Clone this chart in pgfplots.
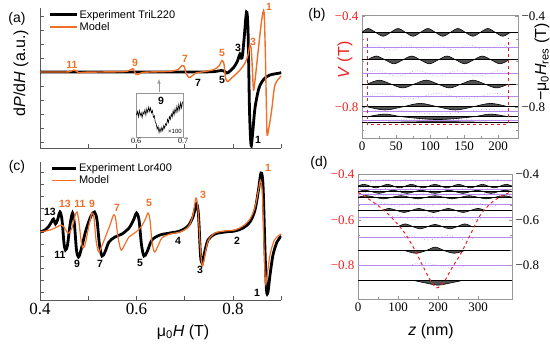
\documentclass[border=0pt]{standalone}
\usepackage{fontspec}
\setmainfont{Liberation Sans}
\newfontfamily\tnr{Liberation Serif}
\usepackage{pgfplots}
\pgfplotsset{compat=1.18}
\definecolor{orng}{RGB}{240,112,40}
\definecolor{vio}{RGB}{185,135,240}
\definecolor{axc}{RGB}{90,90,90}
\definecolor{frm}{RGB}{150,150,150}
\definecolor{fillg}{RGB}{80,80,80}
\definecolor{rd}{RGB}{240,30,30}
\newcommand{\tl}[1]{\hbox{\tnr #1}}
\tikzset{
  lo/.style={text=orng, font=\fontsize{10.5}{12}\selectfont\bfseries, inner sep=0pt},
  lb/.style={text=black, font=\fontsize{10.5}{12}\selectfont\bfseries, inner sep=0pt},
}
\pgfplotsset{
  band/.style={smooth, tension=0.55, fill=fillg, draw=black, line width=0.6pt},
  pdot/.style={smooth, tension=0.6, vio, dotted, line width=0.6pt},
  psol/.style={vio, line width=0.7pt},
  bsol/.style={black, line width=0.9pt},
}
\begin{document}
\begin{tikzpicture}[x=1pt,y=1pt]
\useasboundingbox (0,0) rectangle (550,347);

% ---------------- (a) ----------------
\begin{axis}[
  at={(40pt,199pt)}, anchor=south west, scale only axis,
  width=241.25pt, height=140pt, xmin=0.4, xmax=0.9, ymin=-2.714, ymax=2.286,
  axis x line*=bottom, axis y line*=left, axis line style={axc, line width=0.6pt},
  tick align=inside, major tick length=3.5pt, tick style={axc, line width=0.6pt},
  xtick={0.4,0.5,0.6,0.7,0.8,0.9}, xticklabels={}, ytick={-2.5,-2,...,2}, yticklabels={},
  legend style={draw=none, fill=none, at={(0.035,0.995)}, anchor=north west,
    font=\fontsize{11}{12}\selectfont, inner sep=0pt, row sep=0.5pt, nodes={inner sep=1.2pt}},
  legend cell align=left,
  legend image code/.code={\draw[#1] (0pt,0pt) -- (27pt,0pt);},
]
\addplot[black, line width=2.8pt, smooth, tension=0.5] coordinates {
(0.4,0) (0.5244,0) (0.628,0) (0.7316,0) (0.7627,0.018) (0.7751,0.054) (0.7813,0.036)
(0.7876,-0.036) (0.7938,0.036) (0.8021,0.179) (0.8093,0.393) (0.8145,0.643) (0.8187,0.5)
(0.8228,1.143) (0.828,2.143) (0.8311,1.5) (0.8342,-1.357) (0.8373,-2.607) (0.8404,-2.25)
(0.8456,-1.286) (0.8539,-0.571) (0.8642,-0.25) (0.8767,-0.107) (0.8974,-0.036) (0.9,-0.02)};
\addlegendentry{Experiment TriL220}
\addplot[orng, line width=1.4pt, smooth, tension=0.5] coordinates {
(0.4,0) (0.4518,0) (0.4622,0.018) (0.4705,0.071) (0.4767,0.018) (0.4808,-0.036) (0.4891,-0.01)
(0.5244,0) (0.5762,0.018) (0.5886,0.089) (0.5938,0.107) (0.5979,-0.071) (0.6031,-0.089)
(0.6114,-0.018) (0.628,0) (0.6694,0.025) (0.686,0.089) (0.6943,0.232) (0.6984,0.214)
(0.7026,-0.036) (0.7088,-0.196) (0.715,-0.143) (0.7233,-0.036) (0.742,0.018) (0.7606,0.089)
(0.771,0.214) (0.7772,0.411) (0.7813,0.286) (0.7845,-0.214) (0.7886,-0.339) (0.7938,-0.268)
(0.8041,-0.107) (0.8145,0.071) (0.8249,0.321) (0.8311,0.607) (0.8352,0.964) (0.8383,0.714)
(0.8421,-0.571) (0.8446,-0.45) (0.8524,0.786) (0.8595,1.857) (0.8642,2.154) (0.8669,0.786)
(0.8694,-1.357) (0.8707,-2.25) (0.8748,-1.95) (0.8802,-1.357) (0.887,-0.464) (0.9,-0.143)};
\addlegendentry{Model}
\end{axis}

% inset
\begin{axis}[
  at={(136pt,210pt)}, anchor=south west, scale only axis, width=47pt, height=44pt,
  xmin=0.6, xmax=0.7, ymin=0, ymax=1, axis line style={frm, line width=0.6pt},
  xtick={0.6,0.7}, xticklabels={\tl{0.6},\tl{0.7}}, major tick length=0pt, ytick=\empty,
  xticklabel style={font=\fontsize{8}{9}\selectfont, inner sep=1pt},
]
\addplot[black, line width=0.6pt] coordinates {
(0.601,0.50) (0.603,0.58) (0.605,0.46) (0.607,0.60) (0.609,0.49) (0.611,0.55) (0.613,0.44)
(0.615,0.57) (0.617,0.52) (0.619,0.62) (0.621,0.50) (0.623,0.64) (0.625,0.56) (0.627,0.68)
(0.629,0.58) (0.631,0.66) (0.633,0.55) (0.635,0.60) (0.637,0.45) (0.639,0.48) (0.641,0.34)
(0.643,0.30) (0.645,0.18) (0.647,0.24) (0.649,0.10) (0.651,0.20) (0.653,0.12) (0.655,0.22)
(0.657,0.14) (0.659,0.26) (0.661,0.20) (0.663,0.30) (0.665,0.27) (0.667,0.40) (0.669,0.33)
(0.671,0.46) (0.673,0.40) (0.675,0.52) (0.677,0.45) (0.679,0.60) (0.681,0.50) (0.683,0.64)
(0.685,0.55) (0.687,0.70) (0.689,0.58) (0.691,0.74) (0.693,0.62) (0.695,0.78) (0.697,0.66)
(0.699,0.80)};
\end{axis}

% ---------------- (c) ----------------
\begin{axis}[
  at={(40pt,47pt)}, anchor=south west, scale only axis,
  width=241.25pt, height=138pt, xmin=0.4, xmax=0.9, ymin=-2.833, ymax=2.917,
  axis x line*=bottom, axis y line*=left, axis line style={axc, line width=0.6pt},
  tick align=inside, major tick length=3.5pt, minor tick length=3.5pt, tick style={axc, line width=0.6pt},
  xtick={0.4,0.6,0.8}, xticklabels={\tl{0.4},\tl{0.6},\tl{0.8}}, minor xtick={0.5,0.7,0.9},
  xticklabel style={font=\fontsize{17}{18}\selectfont},
  ytick={-2.5,-2,...,2.5}, yticklabels={},
  legend style={draw=none, fill=none, at={(0.045,1.0)}, anchor=north west,
    font=\fontsize{11}{12}\selectfont, inner sep=0pt, row sep=0.5pt, nodes={inner sep=1.2pt}},
  legend cell align=left,
  legend image code/.code={\draw[#1] (0pt,0pt) -- (24pt,0pt);},
]
\addplot[black, line width=2.8pt, smooth, tension=0.5] coordinates {
(0.4,0) (0.4104,0.083) (0.4187,0.25) (0.4249,0.458) (0.428,0.542) (0.4321,0.333) (0.4363,0.5)
(0.4415,0.833) (0.4456,0.5) (0.4497,-0.458) (0.4528,-0.75) (0.457,-0.542) (0.4622,0.292)
(0.4674,0.792) (0.4715,0.292) (0.4756,-0.75) (0.4798,-1.042) (0.485,-0.75) (0.4953,0.083)
(0.5057,0.667) (0.513,0.833) (0.5181,0.5) (0.5233,-0.542) (0.5285,-1.0) (0.5347,-0.833)
(0.543,-0.417) (0.5554,-0.208) (0.5699,-0.083) (0.5845,0.167) (0.5938,0.5) (0.6,0.792)
(0.6052,0.5) (0.6104,-0.542) (0.6155,-1.0) (0.6218,-0.833) (0.6321,-0.333) (0.6487,-0.125)
(0.6694,-0.042) (0.6902,0.042) (0.7067,0.25) (0.7171,0.625) (0.7244,1.167) (0.7285,0.708)
(0.7326,-0.958) (0.7358,-1.292) (0.7399,-0.958) (0.7482,-0.333) (0.7627,-0.083) (0.7834,0)
(0.8041,0.042) (0.8207,0.167) (0.8352,0.417) (0.8456,0.917) (0.8528,1.75) (0.858,2.458)
(0.8622,1.958) (0.8663,-0.75) (0.8694,-2.417) (0.8725,-2.5) (0.8767,-1.792) (0.8829,-0.958)
(0.8912,-0.417) (0.9,-0.167)};
\addlegendentry{Experiment Lor400}
\addplot[orng, line width=1.2pt, smooth, tension=0.5] coordinates {
(0.4,0) (0.4207,0.083) (0.4352,0.208) (0.4435,0.292) (0.4497,0.208) (0.456,0) (0.4601,-0.042)
(0.4663,0.167) (0.4725,0.667) (0.4767,0.833) (0.4808,0.417) (0.485,-0.333) (0.4891,-0.667)
(0.4943,-0.458) (0.5016,0.292) (0.5078,0.792) (0.5119,0.583) (0.5161,-0.333) (0.5212,-0.833)
(0.5264,-0.667) (0.5347,-0.25) (0.5451,0.292) (0.5523,0.708) (0.5565,0.583) (0.5617,-0.208)
(0.5679,-0.75) (0.5741,-0.583) (0.5845,-0.208) (0.599,0) (0.6093,0.208) (0.6176,0.5)
(0.6238,0.792) (0.628,0.5) (0.6321,-0.417) (0.6373,-0.833) (0.6435,-0.625) (0.6528,-0.25)
(0.6694,-0.083) (0.6902,0) (0.7067,0.208) (0.7161,0.625) (0.7233,1.417) (0.7275,0.917)
(0.7326,-0.75) (0.7368,-1.417) (0.7409,-1.083) (0.7482,-0.375) (0.7627,-0.042) (0.7834,0.042)
(0.8041,0.083) (0.8207,0.25) (0.8352,0.542) (0.8456,1.042) (0.8528,1.75) (0.857,2.167)
(0.8611,1.542) (0.8642,-0.542) (0.8674,-2.125) (0.8705,-1.833) (0.8767,-0.958) (0.885,-0.375)
(0.8933,-0.167) (0.9,-0.083)};
\addlegendentry{Model}
\end{axis}

% ---------------- (b) ----------------
\begin{axis}[
  at={(362pt,209pt)}, anchor=south west, scale only axis, width=156pt, height=123pt,
  xmin=0, xmax=229.4, ymin=-0.936, ymax=-0.3956,
  axis line style={frm, line width=0.6pt}, tick style={frm, line width=0.5pt},
  tick align=inside, major tick length=3pt, minor tick length=2pt,
  xtick={0,50,100,150,200}, xticklabels={\tl{0},\tl{50},\tl{100},\tl{150},\tl{200}}, minor x tick num=1,
  xtick pos=bottom, ytick pos=left,
  ytick={-0.4,-0.8}, yticklabels={\tl{−0.4},\tl{−0.8}}, minor ytick={-0.5,-0.6,-0.7,-0.9},
  xticklabel style={font=\fontsize{13}{14}\selectfont},
  yticklabel style={font=\fontsize{13}{14}\selectfont, text=rd},
]
\addplot[psol] coordinates {(0,-0.538) (229.4,-0.538)};
\addplot[psol] coordinates {(0,-0.652) (229.4,-0.652)};
\addplot[psol] coordinates {(0,-0.752) (229.4,-0.752)};
\addplot[psol] coordinates {(0,-0.821) (229.4,-0.821)};
\addplot[psol] coordinates {(0,-0.860) (229.4,-0.860)};
\addplot[pdot] coordinates {(8,-0.538) (19.5,-0.526) (42.5,-0.550) (65.5,-0.526) (88.5,-0.550) (111.5,-0.526) (134.5,-0.550) (157.5,-0.526) (180.5,-0.550) (203.5,-0.526) (215,-0.538)};
\addplot[pdot] coordinates {(8,-0.652) (22.8,-0.640) (52.4,-0.664) (81.9,-0.640) (111.5,-0.664) (141.1,-0.640) (170.7,-0.664) (200.2,-0.640) (215,-0.652)};
\addplot[pdot] coordinates {(8,-0.752) (28.7,-0.740) (70.1,-0.764) (111.5,-0.740) (152.9,-0.764) (194.3,-0.740) (215,-0.752)};
\addplot[pdot] coordinates {(8,-0.821) (42.5,-0.811) (111.5,-0.831) (180.5,-0.811) (215,-0.821)};
\addplot[pdot] coordinates {(8,-0.860) (111.5,-0.854) (215,-0.860)};
\addplot[band] coordinates {(0,-0.472) (9,-0.455) (20,-0.472) (31,-0.489) (42,-0.472) (53,-0.455) (64,-0.472) (75,-0.489) (86,-0.472) (97,-0.455) (108,-0.472) (119,-0.489) (130,-0.472) (141,-0.455) (152,-0.472) (163,-0.489) (174,-0.472) (185,-0.455) (196,-0.472) (207,-0.489) (218,-0.472)};
\addplot[band] coordinates {(8,-0.593) (21,-0.576) (34,-0.593) (47,-0.610) (60,-0.593) (73,-0.576) (86,-0.593) (99,-0.610) (112,-0.593) (125,-0.576) (138,-0.593) (151,-0.610) (164,-0.593) (177,-0.576) (190,-0.593) (203,-0.610) (216,-0.593)};
\addplot[band] coordinates {(8,-0.699) (25.3,-0.682) (42.5,-0.699) (59.8,-0.716) (77,-0.699) (94.3,-0.682) (111.5,-0.699) (128.8,-0.716) (146,-0.699) (163.3,-0.682) (180.5,-0.699) (197.8,-0.716) (215,-0.699)};
\addplot[band] coordinates {(8,-0.799) (33.9,-0.813) (59.8,-0.799) (85.6,-0.784) (111.5,-0.799) (137.4,-0.813) (163.3,-0.799) (189.1,-0.784) (215,-0.799)};
\addplot[band] coordinates {(8,-0.843) (34,-0.831) (60,-0.843) (111.5,-0.855) (163,-0.843) (189,-0.831) (215,-0.843)};
\addplot[band] coordinates {(8,-0.869) (111.5,-0.864) (215,-0.869)};
\addplot[bsol] coordinates {(0,-0.472) (229.4,-0.472)};
\addplot[bsol] coordinates {(0,-0.593) (229.4,-0.593)};
\addplot[bsol] coordinates {(0,-0.699) (229.4,-0.699)};
\addplot[bsol] coordinates {(0,-0.799) (229.4,-0.799)};
\addplot[bsol] coordinates {(0,-0.843) (229.4,-0.843)};
\addplot[bsol] coordinates {(0,-0.869) (229.4,-0.869)};
\addplot[rd, dashed, line width=1pt] coordinates {(8,-0.497) (8,-0.875) (215,-0.875) (215,-0.497)};
\end{axis}
\begin{axis}[
  at={(362pt,209pt)}, anchor=south west, scale only axis, width=156pt, height=123pt,
  xmin=0, xmax=229.4, ymin=-0.936, ymax=-0.3956,
  hide x axis, axis y line*=right, axis line style={frm, line width=0.6pt},
  tick style={frm, line width=0.5pt}, tick align=inside, major tick length=3pt, minor tick length=2pt,
  ytick={-0.4,-0.8}, yticklabels={\tl{−0.4},\tl{−0.8}}, minor ytick={-0.5,-0.6,-0.7,-0.9},
  yticklabel style={font=\fontsize{13}{14}\selectfont},
]
\addplot[draw=none] coordinates {(0,-0.5)};
\end{axis}

% ---------------- (d) ----------------
\begin{axis}[
  at={(358pt,48pt)}, anchor=south west, scale only axis, width=154pt, height=124.5pt,
  xmin=0, xmax=385, ymin=-0.947, ymax=-0.4,
  axis line style={frm, line width=0.6pt}, tick style={frm, line width=0.5pt},
  tick align=inside, major tick length=3pt, minor tick length=2pt,
  xtick={0,100,200,300}, xticklabels={\tl{0},\tl{100},\tl{200},\tl{300}}, minor x tick num=1,
  xtick pos=bottom, ytick pos=left,
  ytick={-0.4,-0.6,-0.8}, yticklabels={\tl{−0.4},\tl{−0.6},\tl{−0.8}}, minor y tick num=2,
  xticklabel style={font=\fontsize{13}{14}\selectfont},
  yticklabel style={font=\fontsize{13}{14}\selectfont, text=rd},
]
\addplot[psol] coordinates {(0,-0.800) (385,-0.800)};
\addplot[psol] coordinates {(0,-0.678) (385,-0.678)};
\addplot[psol] coordinates {(0,-0.590) (385,-0.590)};
\addplot[psol] coordinates {(0,-0.532) (385,-0.532)};
\addplot[psol] coordinates {(0,-0.488) (385,-0.488)};
\addplot[psol] coordinates {(0,-0.465) (385,-0.465)};
\addplot[psol] coordinates {(0,-0.427) (385,-0.427)};
\addplot[pdot] coordinates {(130,-0.8) (165,-0.788) (235,-0.812) (270,-0.8)};
\addplot[pdot] coordinates {(110,-0.678) (132.5,-0.668) (177.5,-0.688) (222.5,-0.668) (267.5,-0.688) (290,-0.678)};
\addplot[pdot] coordinates {(80,-0.59) (99.2,-0.581) (137.5,-0.599) (175.8,-0.581) (214.2,-0.599) (252.5,-0.581) (290.8,-0.599) (310,-0.59)};
\addplot[pdot] coordinates {(40,-0.532) (59.4,-0.524) (98.1,-0.540) (136.9,-0.524) (175.6,-0.540) (214.4,-0.524) (253.1,-0.540) (291.9,-0.524) (330.6,-0.540) (350,-0.532)};
\addplot[pdot] coordinates {(0,-0.488) (19.25,-0.480) (57.75,-0.496) (96.25,-0.480) (134.75,-0.496) (173.25,-0.480) (211.75,-0.496) (250.25,-0.480) (288.75,-0.496) (327.25,-0.480) (365.75,-0.496) (385,-0.488)};
\addplot[pdot] coordinates {(0,-0.465) (16,-0.457) (48.1,-0.473) (80.2,-0.457) (112.3,-0.473) (144.4,-0.457) (176.5,-0.473) (208.5,-0.457) (240.6,-0.473) (272.7,-0.457) (304.8,-0.473) (336.9,-0.457) (369,-0.473) (385,-0.465)};
\addplot[pdot] coordinates {(0,-0.427) (13.75,-0.420) (41.25,-0.434) (68.75,-0.420) (96.25,-0.434) (123.75,-0.420) (151.25,-0.434) (178.75,-0.420) (206.25,-0.434) (233.75,-0.420) (261.25,-0.434) (288.75,-0.420) (316.25,-0.434) (343.75,-0.420) (371.25,-0.434) (385,-0.427)};
\addplot[band] coordinates {(140,-0.866) (170,-0.877) (200,-0.886) (230,-0.877) (260,-0.866)};
\addplot[band] coordinates {(117,-0.734) (144,-0.746) (171,-0.734) (193,-0.719) (215,-0.734) (241,-0.746) (267,-0.734)};
\addplot[band] coordinates {(100,-0.629) (118.5,-0.617) (137,-0.629) (155.5,-0.639) (174,-0.629) (192.5,-0.619) (211,-0.629) (229.5,-0.639) (248,-0.629) (266.5,-0.617) (285,-0.629)};
\addplot[band] coordinates {(60,-0.558) (78.4,-0.549) (96.9,-0.558) (115.3,-0.567) (133.7,-0.558) (152.1,-0.549) (170.6,-0.558) (189,-0.567) (207.4,-0.558) (225.9,-0.549) (244.3,-0.558) (262.7,-0.567) (281.1,-0.558) (299.6,-0.549) (318,-0.558)};
\addplot[band] coordinates {(0,-0.5) (21.4,-0.493) (42.8,-0.5) (64.2,-0.507) (85.6,-0.5) (107,-0.493) (128.3,-0.5) (149.7,-0.507) (171.1,-0.5) (192.5,-0.493) (213.9,-0.5) (235.3,-0.507) (256.7,-0.5) (278,-0.493) (299.4,-0.5) (320.8,-0.507) (342.2,-0.5) (363.6,-0.493) (385,-0.5)};
\addplot[band] coordinates {(0,-0.476) (17.5,-0.469) (35,-0.476) (52.5,-0.483) (70,-0.476) (87.5,-0.469) (105,-0.476) (122.5,-0.483) (140,-0.476) (157.5,-0.469) (175,-0.476) (192.5,-0.483) (210,-0.476) (227.5,-0.469) (245,-0.476) (262.5,-0.483) (280,-0.476) (297.5,-0.469) (315,-0.476) (332.5,-0.483) (350,-0.476) (367.5,-0.469) (385,-0.476)};
\addplot[band] coordinates {(0,-0.451) (14.8,-0.443) (29.6,-0.451) (44.4,-0.459) (59.2,-0.451) (74,-0.443) (88.8,-0.451) (103.7,-0.459) (118.5,-0.451) (133.3,-0.443) (148.1,-0.451) (162.9,-0.459) (177.7,-0.451) (192.5,-0.443) (207.3,-0.451) (222.1,-0.459) (236.9,-0.451) (251.7,-0.443) (266.5,-0.451) (281.3,-0.459) (296.2,-0.451) (311,-0.443) (325.8,-0.451) (340.6,-0.459) (355.4,-0.451) (370.2,-0.443) (385,-0.451)};
\addplot[bsol] coordinates {(0,-0.866) (385,-0.866)};
\addplot[bsol] coordinates {(0,-0.734) (385,-0.734)};
\addplot[bsol] coordinates {(0,-0.629) (385,-0.629)};
\addplot[bsol] coordinates {(0,-0.558) (385,-0.558)};
\addplot[bsol] coordinates {(0,-0.500) (385,-0.500)};
\addplot[bsol] coordinates {(0,-0.476) (385,-0.476)};
\addplot[bsol] coordinates {(0,-0.451) (385,-0.451)};
\addplot[rd, dashed, line width=1pt, smooth, tension=0.5] coordinates {
(0,-0.478) (20,-0.50) (45,-0.53) (70,-0.565) (95,-0.61) (118,-0.66) (140,-0.725) (160,-0.795)
(180,-0.862) (197,-0.898) (215,-0.872) (235,-0.81) (258,-0.745) (282,-0.66) (305,-0.58)
(330,-0.53) (355,-0.498) (385,-0.475)};
\end{axis}
\begin{axis}[
  at={(358pt,48pt)}, anchor=south west, scale only axis, width=154pt, height=124.5pt,
  xmin=0, xmax=385, ymin=-0.947, ymax=-0.4,
  hide x axis, axis y line*=right, axis line style={frm, line width=0.6pt},
  tick style={frm, line width=0.5pt}, tick align=inside, major tick length=3pt, minor tick length=2pt,
  ytick={-0.4,-0.6,-0.8}, yticklabels={\tl{−0.4},\tl{−0.6},\tl{−0.8}}, minor y tick num=2,
  yticklabel style={font=\fontsize{13}{14}\selectfont},
]
\addplot[draw=none] coordinates {(0,-0.5)};
\end{axis}

% ---------------- text ----------------
\begin{scope}[font=\fontsize{14}{16}\selectfont]
\node at (17,328) {(a)};
\node at (317,332) {(b)};
\node at (17,180) {(c)};
\node at (319,184) {(d)};
\end{scope}
\node[rotate=90, font=\fontsize{16}{18}\selectfont] at (21,274) {d\textit{P}/d\textit{H} (a.u.)};
\node[font=\fontsize{16}{18}\selectfont] at (183,15) {μ\textsubscript{0}\textit{H} (T)};
\node[font=\fontsize{16}{18}\selectfont] at (431,16) {\textit{z} (nm)};
\node[rotate=90, font=\fontsize{16}{18}\selectfont, text=rd] at (345,287) {\textit{V} (T)};
\node[rotate=90, font=\fontsize{16}{18}\selectfont] at (542,285) {−μ\textsubscript{0}\textit{H}\textsubscript{res} (T)};
% inset decorations
\draw[-latex, frm, line width=0.6pt] (159,255) -- (159,268);
\node[lb] at (161,246) {9};
\node[font=\fontsize{6}{7}\selectfont, inner sep=0pt] at (175,216) {×100};
% (a) labels
\node[lo] at (72,282) {11};
\node[lo] at (135,284) {9};
\node[lo] at (185,288) {7};
\node[lo] at (222,294) {5};
\node[lo] at (253,305) {3};
\node[lo] at (269,340) {1};
\node[lb] at (238,299) {3};
\node[lb] at (198,264) {7};
\node[lb] at (222,267) {5};
\node[lb] at (258,207) {1};
% (c) labels
\node[lo] at (65,143) {13};
\node[lo] at (80,143) {11};
\node[lo] at (92,143) {9};
\node[lo] at (117,139) {7};
\node[lo] at (149,144) {5};
\node[lo] at (203,152) {3};
\node[lo] at (268,179) {1};
\node[lb] at (50,135) {13};
\node[lb] at (60,92) {11};
\node[lb] at (77,83) {9};
\node[lb] at (100,83) {7};
\node[lb] at (140,84) {5};
\node[lb] at (178,106) {4};
\node[lb] at (200,77) {3};
\node[lb] at (237,106) {2};
\node[lb] at (257,54) {1};
\end{tikzpicture}
\end{document}
